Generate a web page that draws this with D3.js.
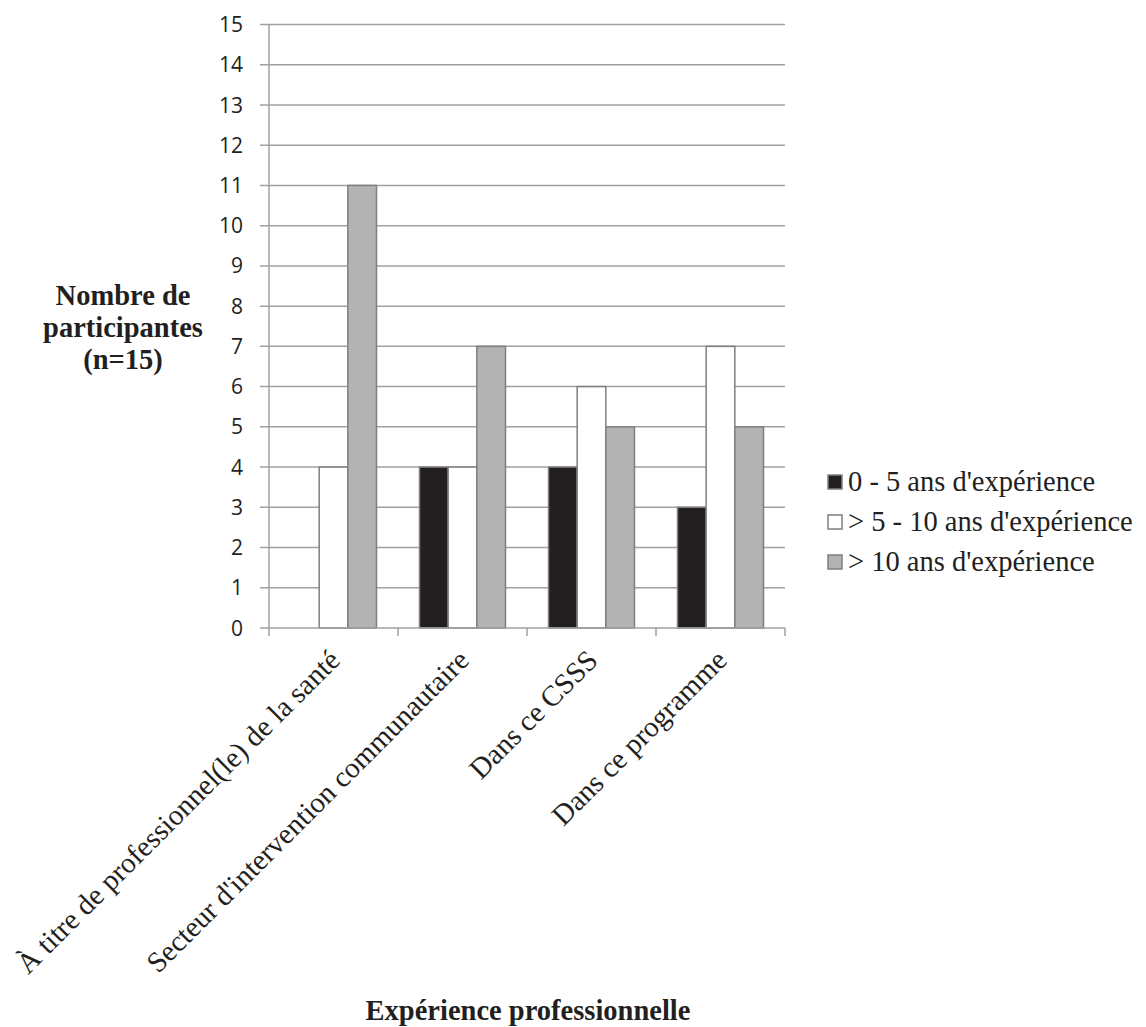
<!DOCTYPE html>
<html>
<head>
<meta charset="utf-8">
<script src="https://cdn.jsdelivr.net/npm/d3@7"></script>
<style>
  html, body { margin: 0; padding: 0; background: #fff; }
  svg { display: block; }
</style>
</head>
<body>
<svg id="chart" width="1146" height="1027"></svg>
<script>
// Categories of professional experience
const categories = [
  "À titre de professionnel(le) de la santé",
  "Secteur d'intervention communautaire",
  "Dans ce CSSS",
  "Dans ce programme"
];
// Experience groups (series)
const seriesNames = [
  "0 - 5 ans d'expérience",
  "> 5 - 10 ans d'expérience",
  "> 10 ans d'expérience"
];
// Number of participants per category, one array per series
const series0to5 = [0, 4, 4, 3];
const series5to10 = [4, 4, 6, 7];
const seriesOver10 = [11, 7, 5, 5];
const yTicks = d3.range(0, 16);

const seriesValues = [series0to5, series5to10, seriesOver10];
const fills = ["#231f20", "#ffffff", "#b3b3b3"];
const serif = "'Liberation Serif', 'Times New Roman', serif";

const svg = d3.select("#chart");
const plot = { left: 269, right: 785, top: 24.5, bottom: 628 };

const y = d3.scaleLinear().domain([0, 15]).range([plot.bottom, plot.top]);
const x0 = d3.scaleBand().domain(categories).range([plot.left, plot.right]).paddingInner(0).paddingOuter(0);
const bw = x0.bandwidth() / 4.5;
const x1 = d3.scaleBand().domain(d3.range(3)).range([bw * 0.75, bw * 3.75]).padding(0);

// Gridlines with ticks on the left
svg.append("g").selectAll("line").data(yTicks.filter(d => d > 0)).join("line")
  .attr("x1", plot.left - 9).attr("x2", plot.right)
  .attr("y1", d => y(d)).attr("y2", d => y(d))
  .attr("stroke", "#a0a0a0").attr("stroke-width", 1.5);

// Y tick labels
svg.append("g").selectAll("text").data(yTicks).join("text")
  .attr("x", 243).attr("y", d => y(d)).attr("dy", "0.36em")
  .attr("text-anchor", "end")
  .attr("font-family", "'Open Sans', 'Liberation Sans', sans-serif")
  .attr("font-size", 21).attr("fill", "#231f20")
  .text(d => d);

// Bars
const catG = svg.append("g").selectAll("g").data(categories).join("g")
  .attr("transform", d => `translate(${x0(d)},0)`);
catG.selectAll("rect")
  .data((c, ci) => seriesValues.map((vals, si) => ({ si, v: vals[ci] })).filter(d => d.v > 0))
  .join("rect")
  .attr("x", d => x1(d.si)).attr("width", x1.bandwidth())
  .attr("y", d => y(d.v)).attr("height", d => y(0) - y(d.v))
  .attr("fill", d => fills[d.si])
  .attr("stroke", "#7f7f7f").attr("stroke-width", 1.5);

// Axis lines
svg.append("line").attr("x1", plot.left).attr("x2", plot.left)
  .attr("y1", plot.top).attr("y2", plot.bottom)
  .attr("stroke", "#a0a0a0").attr("stroke-width", 1.5);
svg.append("line").attr("x1", plot.left - 9).attr("x2", plot.right)
  .attr("y1", plot.bottom).attr("y2", plot.bottom)
  .attr("stroke", "#a0a0a0").attr("stroke-width", 1.5);
// Category separator ticks
const sepX = categories.map(c => x0(c)).concat([plot.right]);
svg.append("g").selectAll("line").data(sepX).join("line")
  .attr("x1", d => d).attr("x2", d => d)
  .attr("y1", plot.bottom).attr("y2", plot.bottom + 8)
  .attr("stroke", "#a0a0a0").attr("stroke-width", 1.5);

// Rotated category labels
svg.append("g").selectAll("text").data(categories).join("text")
  .attr("transform", d => `translate(${x0(d) + x0.bandwidth() / 2 + 8},${plot.bottom + 34}) rotate(-45)`)
  .attr("text-anchor", "end")
  .attr("font-family", serif)
  .attr("font-size", 29).attr("fill", "#231f20")
  .text(d => d);

// Y axis title
const yTitle = svg.append("text")
  .attr("text-anchor", "middle")
  .attr("font-family", serif)
  .attr("font-size", 28.5).attr("font-weight", "bold").attr("fill", "#231f20");
["Nombre de", "participantes", "(n=15)"].forEach((t, i) => {
  yTitle.append("tspan").attr("x", 123).attr("y", 305 + i * 32).text(t);
});

// X axis title
svg.append("text")
  .attr("x", 528).attr("y", 1020)
  .attr("text-anchor", "middle")
  .attr("font-family", serif)
  .attr("font-size", 28.5).attr("font-weight", "bold").attr("fill", "#231f20")
  .text("Expérience professionnelle");

// Legend
const legend = svg.append("g").selectAll("g").data(seriesNames).join("g")
  .attr("transform", (d, i) => `translate(828,${482 + i * 40})`);
legend.append("rect")
  .attr("x", 0).attr("y", -7).attr("width", 14).attr("height", 14)
  .attr("fill", (d, i) => fills[i])
  .attr("stroke", "#7f7f7f").attr("stroke-width", 1.5);
legend.append("text")
  .attr("x", 20).attr("y", 0).attr("dy", "0.33em")
  .attr("font-family", serif)
  .attr("font-size", 28.5).attr("fill", "#231f20")
  .text(d => d);
</script>
</body>
</html>
